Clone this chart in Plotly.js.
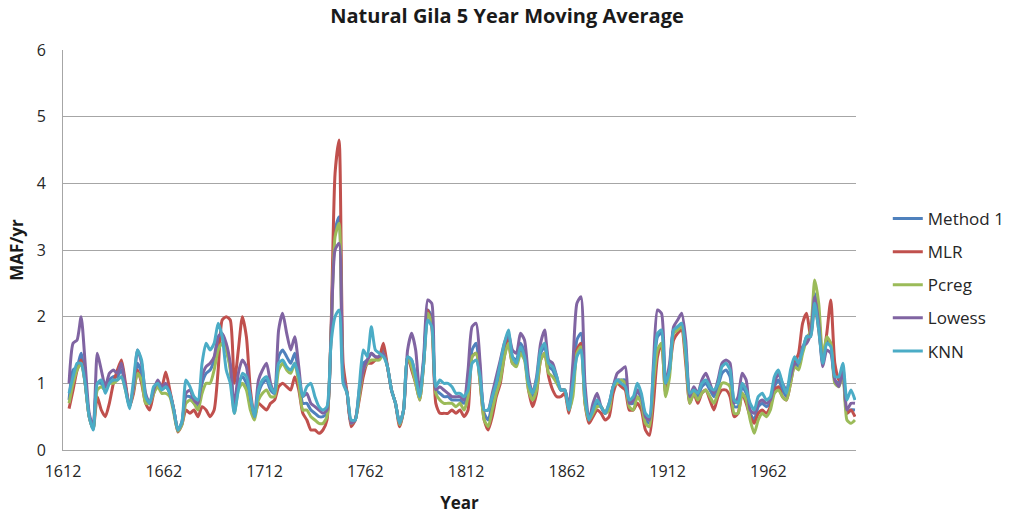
<!DOCTYPE html>
<html><head><meta charset="utf-8">
<script src="https://cdn.plot.ly/plotly-3.0.1.min.js"></script>
<style>html,body{margin:0;padding:0;background:#fff;}#chart{width:1010px;height:514px;}</style>
</head><body><div id="chart"></div>
<script>
// Years: every 2nd year from 1615 to 2005 (values read at 2-year spacing)
const years = [];
for (let y = 1615; y <= 2005; y += 2) years.push(y);

const method1 = [
0.75,1.20,1.25,1.45,1.00, 0.50,0.32,1.00,1.00,0.90, 1.05,1.10,1.10,1.20,0.95, 0.65,0.90,1.30,1.15,0.75,
0.70,0.90,1.00,0.90,0.95, 0.85,0.60,0.30,0.40,0.80, 0.80,0.70,0.65,1.00,1.15, 1.20,1.35,1.65,1.70,1.50,
1.25,0.60,1.00,1.10,1.00, 0.70,0.50,0.85,1.00,1.05, 0.90,0.85,1.40,1.50,1.40, 1.30,1.45,1.15,0.70,0.70,
0.60,0.55,0.50,0.50,0.55, 1.75,3.30,3.50,1.10,0.85, 0.40,0.45,0.85,1.30,1.35, 1.45,1.40,1.40,1.50,1.25,
0.90,0.70,0.38,0.60,1.40, 1.35,1.10,0.80,1.35,2.10, 2.00,0.90,0.85,0.80,0.80, 0.75,0.75,0.75,0.70,0.90,
1.50,1.60,1.10,0.55,0.45, 0.70,0.95,1.20,1.50,1.70, 1.40,1.35,1.60,1.45,1.00, 0.80,1.00,1.45,1.55,1.25,
1.20,1.05,0.90,0.90,0.60, 1.00,1.65,1.75,0.80,0.45, 0.60,0.70,0.65,0.55,0.65, 0.95,1.05,1.05,1.05,0.70,
0.70,0.90,0.75,0.45,0.40, 1.10,1.70,1.75,0.90,1.20, 1.80,1.85,1.90,1.50,0.75, 0.90,0.80,0.95,1.00,0.90,
0.80,0.95,1.15,1.20,1.10, 0.65,0.65,0.95,0.85,0.55, 0.45,0.65,0.70,0.65,0.70, 0.95,1.05,0.90,0.80,1.05,
1.30,1.25,1.50,1.70,1.75, 2.35,2.00,1.30,1.65,1.60, 1.05,1.00,1.25,0.55,0.60, 0.60];

const mlr = [
0.62,0.90,1.20,1.35,1.00, 0.50,0.32,0.80,0.60,0.50, 0.70,1.00,1.20,1.35,1.00, 0.65,0.85,1.20,1.00,0.70,
0.60,0.85,1.00,0.95,1.17, 0.90,0.60,0.27,0.38,0.60, 0.55,0.60,0.50,0.65,0.60, 0.50,0.60,1.20,1.95,2.00,
1.95,1.00,1.50,2.00,1.70, 0.90,0.50,0.70,0.65,0.60, 0.70,0.75,0.95,1.00,0.95, 0.90,1.10,0.90,0.55,0.45,
0.30,0.30,0.25,0.30,0.45, 1.80,4.15,4.65,1.30,0.85, 0.35,0.45,0.75,1.10,1.30, 1.30,1.35,1.40,1.60,1.25,
0.90,0.70,0.35,0.60,1.40, 1.20,1.00,0.75,1.30,2.10, 1.85,0.70,0.55,0.55,0.55, 0.60,0.55,0.60,0.50,0.60,
1.40,1.45,1.00,0.45,0.30, 0.50,0.80,1.00,1.40,1.65, 1.30,1.30,1.50,1.40,0.90, 0.65,0.85,1.35,1.45,1.10,
0.90,0.80,0.80,0.85,0.55, 0.90,1.50,1.60,0.70,0.40, 0.50,0.60,0.55,0.45,0.50, 0.85,1.00,0.95,0.90,0.60,
0.60,0.70,0.60,0.30,0.22, 0.70,1.40,1.60,0.85,1.20, 1.65,1.75,1.80,1.30,0.70, 0.85,0.70,0.85,0.90,0.75,
0.60,0.80,0.90,0.90,0.80, 0.50,0.55,0.85,0.70,0.50, 0.40,0.55,0.60,0.55,0.65, 0.90,0.95,0.80,0.75,1.00,
1.30,1.45,1.90,2.05,1.70, 2.20,1.80,1.35,1.75,2.25, 1.30,1.05,1.15,0.55,0.60, 0.50];

const pcreg = [
0.70,1.00,1.20,1.30,1.00, 0.50,0.32,0.90,0.95,0.90, 1.00,1.00,1.05,1.10,0.90, 0.65,0.90,1.15,1.05,0.70,
0.70,0.85,0.95,0.85,0.85, 0.80,0.55,0.28,0.38,0.70, 0.75,0.70,0.60,0.85,1.00, 1.00,1.20,1.50,1.60,1.50,
1.20,0.55,0.90,1.00,0.90, 0.60,0.45,0.75,0.85,0.90, 0.80,0.80,1.20,1.30,1.20, 1.15,1.30,1.00,0.60,0.60,
0.50,0.45,0.40,0.40,0.50, 1.70,3.20,3.40,1.10,0.85, 0.40,0.45,0.80,1.20,1.30, 1.35,1.35,1.35,1.45,1.25,
0.90,0.70,0.38,0.60,1.40, 1.25,1.00,0.75,1.30,2.05, 1.90,0.85,0.75,0.70,0.70, 0.70,0.65,0.70,0.60,0.80,
1.40,1.45,1.00,0.45,0.35, 0.60,0.85,1.05,1.40,1.60, 1.30,1.25,1.45,1.35,0.90, 0.75,0.90,1.35,1.45,1.15,
1.10,1.00,0.90,0.90,0.60, 0.80,1.45,1.55,0.70,0.45, 0.55,0.65,0.65,0.55,0.60, 0.95,1.00,1.05,1.00,0.65,
0.60,0.80,0.70,0.40,0.35, 1.00,1.50,1.60,0.80,1.10, 1.75,1.80,1.85,1.40,0.70, 0.85,0.75,0.85,0.90,0.80,
0.70,0.85,1.00,1.00,0.95, 0.55,0.55,0.85,0.75,0.45, 0.25,0.45,0.55,0.50,0.60, 0.85,0.90,0.80,0.75,1.00,
1.25,1.20,1.45,1.65,1.80, 2.55,2.20,1.40,1.70,1.60, 1.00,0.95,1.15,0.45,0.40, 0.45];

const lowess = [
1.00,1.60,1.65,2.00,1.30, 0.55,0.35,1.45,1.20,0.95, 1.15,1.20,1.15,1.30,0.95, 0.65,0.95,1.50,1.30,0.85,
0.70,0.90,1.05,0.95,1.00, 0.85,0.60,0.30,0.42,0.85, 0.90,0.75,0.70,1.10,1.25, 1.30,1.40,1.70,1.75,1.60,
1.30,0.65,1.15,1.35,1.25, 0.80,0.50,1.05,1.20,1.30, 1.00,0.85,1.80,2.05,1.75, 1.50,1.70,1.25,0.80,0.85,
0.70,0.65,0.60,0.55,0.60, 1.70,3.00,3.10,1.10,0.85, 0.40,0.45,0.90,1.20,1.35, 1.45,1.40,1.40,1.45,1.25,
0.90,0.70,0.40,0.60,1.50, 1.75,1.50,0.85,1.40,2.25, 2.20,0.90,0.95,0.90,0.85, 0.80,0.80,0.80,0.75,1.20,
1.85,1.90,1.30,0.60,0.60, 0.85,1.10,1.35,1.60,1.75, 1.50,1.45,1.75,1.65,1.10, 0.85,1.10,1.60,1.80,1.35,
1.30,1.10,0.90,0.90,0.65, 1.30,2.20,2.30,1.00,0.45, 0.70,0.85,0.65,0.55,0.70, 0.95,1.15,1.20,1.25,0.70,
0.75,0.90,0.80,0.50,0.45, 1.30,2.10,2.05,1.00,1.30, 1.85,1.95,2.05,1.65,0.80, 0.95,0.85,1.05,1.15,1.00,
0.85,1.05,1.30,1.35,1.30, 0.70,0.80,1.15,1.05,0.60, 0.55,0.70,0.75,0.70,0.75, 1.00,1.15,1.00,0.90,1.10,
1.30,1.30,1.55,1.60,1.75, 2.30,1.90,1.25,1.50,1.45, 1.05,0.95,1.20,0.60,0.70, 0.70];

const knn = [
0.85,1.10,1.30,1.30,1.00, 0.50,0.30,1.00,1.05,0.85, 1.00,1.05,1.05,1.10,0.90, 0.62,1.05,1.50,1.35,0.80,
0.70,0.95,1.00,0.90,0.95, 0.85,0.60,0.30,0.42,1.05, 0.95,0.80,0.75,1.30,1.60, 1.50,1.60,1.90,1.70,1.20,
1.00,0.55,0.90,1.15,1.10, 0.80,0.50,0.90,1.05,1.10, 0.95,0.85,1.30,1.35,1.25, 1.20,1.30,1.10,0.80,0.95,
1.00,0.80,0.65,0.60,0.65, 1.60,2.00,2.10,1.00,0.85, 0.45,0.45,0.95,1.50,1.40, 1.85,1.50,1.45,1.40,1.25,
0.90,0.70,0.40,0.60,1.40, 1.35,1.10,0.80,1.30,1.95, 1.85,0.95,1.05,1.00,1.00, 0.95,0.85,0.85,0.80,0.90,
1.30,1.35,1.10,0.60,0.60, 0.80,1.00,1.30,1.60,1.80, 1.40,1.30,1.55,1.40,1.00, 0.85,1.05,1.50,1.60,1.30,
1.25,1.10,0.90,0.90,0.60, 1.00,1.40,1.50,0.80,0.45, 0.60,0.75,0.65,0.55,0.70, 0.95,1.05,1.00,0.95,0.75,
0.80,1.00,0.85,0.55,0.50, 1.20,1.75,1.80,1.00,1.20, 1.80,1.85,1.90,1.50,0.85, 0.90,0.85,1.00,1.05,0.95,
0.90,1.00,1.25,1.30,1.20, 0.75,0.70,1.00,0.90,0.70, 0.60,0.80,0.85,0.75,0.80, 1.10,1.20,1.00,0.85,1.20,
1.40,1.30,1.50,1.70,1.70, 2.20,1.80,1.30,1.60,1.55, 1.10,1.10,1.30,0.75,0.90, 0.75];

const seriesNames = ['Method 1','MLR','Pcreg','Lowess','KNN'];
const seriesData = [method1, mlr, pcreg, lowess, knn];
const seriesColors = ['#4F81BD','#C0504D','#9BBB59','#8064A2','#4BACC6'];
const xTickVals = [1612,1662,1712,1762,1812,1862,1912,1962];

const traces = seriesData.map((d,i)=>({
  x: years, y: d, type:'scatter', mode:'lines', name: seriesNames[i],
  legendgroup: 'g'+i,
  line:{color: seriesColors[i], width:3, shape:'spline', smoothing:0.6}
}));

const fontFam = '"Open Sans", "Liberation Sans", sans-serif';
const layout = {
  width:1010, height:514,
  margin:{l:63, r:154, t:50, b:64},
  paper_bgcolor:'#fff', plot_bgcolor:'#fff',
  title:{text:'<b>Natural Gila 5 Year Moving Average</b>', x:0.502, xanchor:'center', y:0.968, yanchor:'middle',
         font:{family:fontFam, size:20, color:'#1a1a1a'}},
  xaxis:{range:[1612,2005.5], tickvals:xTickVals, ticktext:xTickVals.map(String),
         showgrid:false, zeroline:false, showline:true, linecolor:'#a6a6a6', linewidth:1,
         ticks:'', tickfont:{family:fontFam, size:16, color:'#262626'}, ticklabelstandoff:7,
         title:{text:'<b>Year</b>', font:{family:fontFam, size:17, color:'#1a1a1a'}, standoff:16}},
  yaxis:{range:[0,6], dtick:1, tick0:0, showgrid:true, gridcolor:'#a6a6a6', gridwidth:1,
         zeroline:false, showline:true, linecolor:'#a6a6a6', linewidth:1, ticks:'',
         tickfont:{family:fontFam, size:16, color:'#262626'}, ticklabelstandoff:13,
         title:{text:'<b>MAF/yr</b>', font:{family:fontFam, size:17, color:'#1a1a1a'}, standoff:8}},
  legend:{xref:'container', yref:'container', x:0.879, y:1-201/514, xanchor:'left', yanchor:'top',
          font:{family:fontFam, size:17, color:'#262626'}, itemwidth:30, tracegroupgap:8,
          bgcolor:'rgba(0,0,0,0)'},
  showlegend:true
};
Plotly.newPlot('chart', traces, layout, {staticPlot:true, displayModeBar:false});
</script>
</body></html>
